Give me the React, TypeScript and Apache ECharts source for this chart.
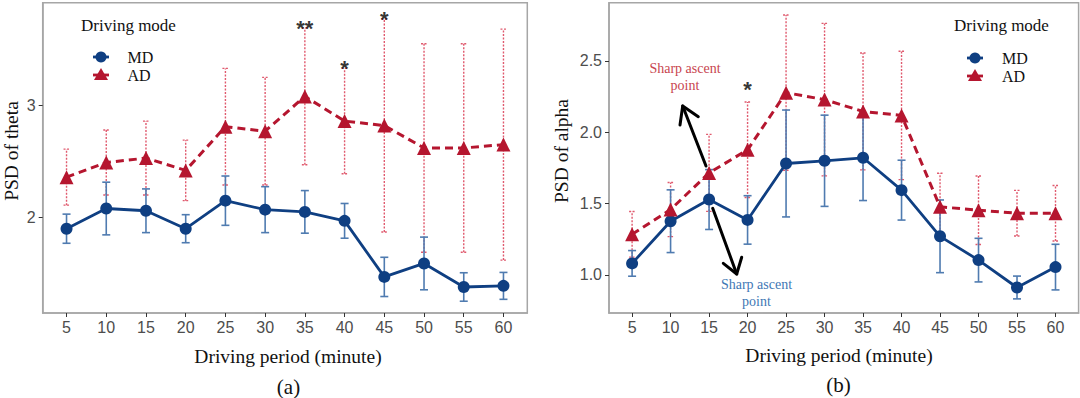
import React, { useEffect, useRef } from "react";
import * as echarts from "echarts";

// ---------- data ----------
const periods = ["5", "10", "15", "20", "25", "30", "35", "40", "45", "50", "55", "60"];

const thetaMD = [1.9, 2.08, 2.06, 1.9, 2.15, 2.07, 2.05, 1.97, 1.47, 1.59, 1.38, 1.39];
const thetaMDErr = [0.13, 0.235, 0.195, 0.125, 0.22, 0.205, 0.19, 0.155, 0.175, 0.235, 0.127, 0.12];
const thetaAD = [2.36, 2.49, 2.53, 2.42, 2.81, 2.77, 3.08, 2.86, 2.82, 2.62, 2.62, 2.65];
const thetaADErr = [0.25, 0.29, 0.33, 0.27, 0.52, 0.48, 0.61, 0.47, 0.95, 0.93, 0.93, 1.03];
const thetaSig = ["", "", "", "", "", "", "**", "*", "*", "", "", ""];
const thetaTicks = [2, 3];

const alphaMD = [1.08, 1.376, 1.528, 1.385, 1.781, 1.8, 1.821, 1.594, 1.27, 1.103, 0.911, 1.054];
const alphaMDErr = [0.09, 0.22, 0.21, 0.17, 0.375, 0.32, 0.3, 0.21, 0.255, 0.153, 0.08, 0.16];
const alphaAD = [1.284, 1.458, 1.715, 1.877, 2.278, 2.229, 2.146, 2.118, 1.477, 1.453, 1.432, 1.432];
const alphaADErr = [0.16, 0.19, 0.27, 0.335, 0.545, 0.535, 0.41, 0.45, 0.235, 0.24, 0.16, 0.195];
const alphaSig = ["", "", "", "*", "", "", "", "", "", "", "", ""];
const alphaTicks = [1.0, 1.5, 2.0, 2.5];

// ---------- styles ----------
const MD_COLOR = "#0f3f82";
const MD_ERR = "#4f7bb0";
const AD_COLOR = "#b5162f";
const AD_ERR = "#e05a6e";
const SERIF = "'Liberation Serif', 'Times New Roman', serif";
const SANS = "'Liberation Sans', Arial, sans-serif";

const xIdx = periods.map((_, i) => i + 1);

function errData(mean: number[], err: number[]) {
  return mean.map((v, i) => [i + 1, v - err[i], v + err[i]]);
}
function ptData(mean: number[]) {
  return mean.map((v, i) => [i + 1, v]);
}
function sigData(mean: number[], err: number[], sig: string[]) {
  return sig
    .map((s, i) => ({ value: [i + 1, mean[i] + err[i]], s }))
    .filter((d) => d.s !== "");
}

function errRender(capW: number, style: any) {
  return (params: any, api: any) => {
    const x = api.value(0);
    const lo = api.coord([x, api.value(1)]);
    const hi = api.coord([x, api.value(2)]);
    return {
      type: "group",
      children: [
        { type: "line", shape: { x1: lo[0], y1: lo[1], x2: hi[0], y2: hi[1] }, style },
        { type: "line", shape: { x1: hi[0] - capW / 2, y1: hi[1], x2: hi[0] + capW / 2, y2: hi[1] }, style },
        { type: "line", shape: { x1: lo[0] - capW / 2, y1: lo[1], x2: lo[0] + capW / 2, y2: lo[1] }, style },
      ],
    };
  };
}

function panelSeries(
  gi: number,
  md: number[],
  mdErr: number[],
  ad: number[],
  adErr: number[],
  sig: string[],
  sigOffset: number
) {
  return [
    {
      type: "custom",
      xAxisIndex: gi,
      yAxisIndex: gi,
      renderItem: errRender(6, { stroke: AD_ERR, lineWidth: 1.4, lineDash: [2, 1.5], fill: null }),
      encode: { x: 0, y: [1, 2] },
      data: errData(ad, adErr),
      z: 1,
      silent: true,
    },
    {
      type: "custom",
      xAxisIndex: gi,
      yAxisIndex: gi,
      renderItem: errRender(8, { stroke: MD_ERR, lineWidth: 1.6, fill: null }),
      encode: { x: 0, y: [1, 2] },
      data: errData(md, mdErr),
      z: 2,
      silent: true,
    },
    {
      name: "MD",
      type: "line",
      xAxisIndex: gi,
      yAxisIndex: gi,
      data: ptData(md),
      symbol: "circle",
      symbolSize: 12,
      lineStyle: { color: MD_COLOR, width: 2.8 },
      itemStyle: { color: MD_COLOR },
      z: 3,
    },
    {
      name: "AD",
      type: "line",
      xAxisIndex: gi,
      yAxisIndex: gi,
      data: ptData(ad),
      symbol: "triangle",
      symbolSize: 14,
      lineStyle: { color: AD_COLOR, width: 3, type: [8, 5] },
      itemStyle: { color: AD_COLOR },
      z: 4,
    },
    {
      type: "scatter",
      xAxisIndex: gi,
      yAxisIndex: gi,
      symbolSize: 0,
      data: sigData(ad, adErr, sig),
      label: {
        show: true,
        position: "inside",
        offset: [0, sigOffset],
        formatter: (p: any) => p.data.s,
        color: "#000",
        fontSize: 22,
        fontWeight: "bold",
        fontFamily: SANS,
        verticalAlign: "middle",
      },
      z: 5,
      silent: true,
    },
  ];
}

function xAxis(gi: number) {
  return {
    type: "value",
    gridIndex: gi,
    min: 0.4,
    max: 12.6,
    axisLine: { show: true, lineStyle: { color: "#a6a6a6", width: 1.5 } },
    splitLine: { show: false },
    axisTick: { show: true, customValues: xIdx, length: 4, lineStyle: { color: "#333", width: 1 } },
    axisLabel: {
      customValues: xIdx,
      formatter: (v: number) => periods[Math.round(v) - 1],
      color: "#4d4d4d",
      fontSize: 16,
      fontFamily: SANS,
      margin: 6,
    },
  };
}

function yAxis(gi: number, min: number, max: number, ticks: number[], dec: number) {
  return {
    type: "value",
    gridIndex: gi,
    min,
    max,
    axisLine: { show: true, lineStyle: { color: "#a6a6a6", width: 1.5 } },
    splitLine: { show: false },
    axisTick: { show: true, customValues: ticks, length: 4, lineStyle: { color: "#333", width: 1 } },
    axisLabel: {
      customValues: ticks,
      formatter: (v: number) => v.toFixed(dec),
      color: "#4d4d4d",
      fontSize: 16,
      fontFamily: SANS,
      margin: 7,
    },
  };
}

function legendGraphic(tx: number, mx: number, textX: number, y0: number) {
  return [
    {
      type: "text",
      x: tx,
      y: 25,
      style: { text: "Driving mode", font: `17px ${SERIF}`, fill: "#111", verticalAlign: "middle", align: "left" },
    },
    { type: "line", shape: { x1: mx - 8, y1: y0, x2: mx + 8, y2: y0 }, style: { stroke: MD_COLOR, lineWidth: 2.8 } },
    { type: "circle", shape: { cx: mx, cy: y0, r: 5.5 }, style: { fill: MD_COLOR } },
    {
      type: "text",
      x: textX,
      y: y0,
      style: { text: "MD", font: `16px ${SERIF}`, fill: "#111", verticalAlign: "middle", align: "left" },
    },
    { type: "line", shape: { x1: mx - 8, y1: y0 + 18, x2: mx + 8, y2: y0 + 18 }, style: { stroke: AD_COLOR, lineWidth: 2.8 } },
    {
      type: "polygon",
      shape: { points: [[mx, y0 + 11], [mx - 7, y0 + 23], [mx + 7, y0 + 23]] },
      style: { fill: AD_COLOR },
    },
    {
      type: "text",
      x: textX,
      y: y0 + 18,
      style: { text: "AD", font: `16px ${SERIF}`, fill: "#111", verticalAlign: "middle", align: "left" },
    },
  ];
}

function titleText(text: string, x: number, y: number, size: number, rotate = false) {
  return {
    type: "text",
    x,
    y,
    rotation: rotate ? Math.PI / 2 : 0,
    style: { text, font: `${size}px ${SERIF}`, fill: "#111", align: "center", verticalAlign: "middle" },
  };
}

function arrow(tail: number[], tip: number[], armA: number[], armB: number[]) {
  const st = { stroke: "#000", lineWidth: 3, lineCap: "round", lineJoin: "round" };
  return [
    { type: "line", shape: { x1: tail[0], y1: tail[1], x2: tip[0], y2: tip[1] }, style: st },
    { type: "polyline", shape: { points: [armA, tip, armB] }, style: { ...st, fill: null } },
  ];
}

export default function App() {
  const ref = useRef<HTMLDivElement>(null);
  useEffect(() => {
    document.body.style.margin = "0";
    const chart = echarts.init(ref.current!, null, { renderer: "svg" });
    const option: any = {
      animation: false,
      backgroundColor: "#fff",
      grid: [
        { left: 42.7, top: 2.7, width: 484.6, height: 310.3, show: true, borderColor: "#a6a6a6", borderWidth: 1.5, containLabel: false },
        { left: 609, top: 2.7, width: 469.6, height: 310.3, show: true, borderColor: "#a6a6a6", borderWidth: 1.5, containLabel: false },
      ],
      xAxis: [xAxis(0), xAxis(1)],
      yAxis: [yAxis(0, 1.148, 3.916, thetaTicks, 0), yAxis(1, 0.732, 2.909, alphaTicks, 1)],
      series: [
        ...panelSeries(0, thetaMD, thetaMDErr, thetaAD, thetaADErr, thetaSig, 0),
        ...panelSeries(1, alphaMD, alphaMDErr, alphaAD, alphaADErr, alphaSig, -13),
      ],
      graphic: [
        ...legendGraphic(81, 101, 127.5, 57),
        ...legendGraphic(954, 975, 1002, 58),
        titleText("PSD of theta", 11, 151, 19.5, true),
        titleText("PSD of alpha", 561, 151, 19.5, true),
        titleText("Driving period (minute)", 288, 356, 19.5),
        titleText("Driving period (minute)", 839, 355, 19.5),
        titleText("(a)", 288.5, 387, 21),
        titleText("(b)", 838.5, 385, 21),
        {
          type: "text",
          x: 685,
          y: 77,
          style: { text: "Sharp ascent\npoint", font: `14px ${SERIF}`, fill: "#c8454f", align: "center", verticalAlign: "middle", lineHeight: 17 },
        },
        {
          type: "text",
          x: 756.5,
          y: 293,
          style: { text: "Sharp ascent\npoint", font: `14px ${SERIF}`, fill: "#3f78b5", align: "center", verticalAlign: "middle", lineHeight: 17 },
        },
        ...arrow([706, 166], [682.7, 106], [680, 125], [698.3, 116.7]),
        ...arrow([712.7, 208.3], [736.7, 274], [723.3, 263.3], [741.7, 257.3]),
      ],
    };
    chart.setOption(option);
    return () => chart.dispose();
  }, []);
  return <div ref={ref} style={{ width: 1080, height: 398 }} />;
}
